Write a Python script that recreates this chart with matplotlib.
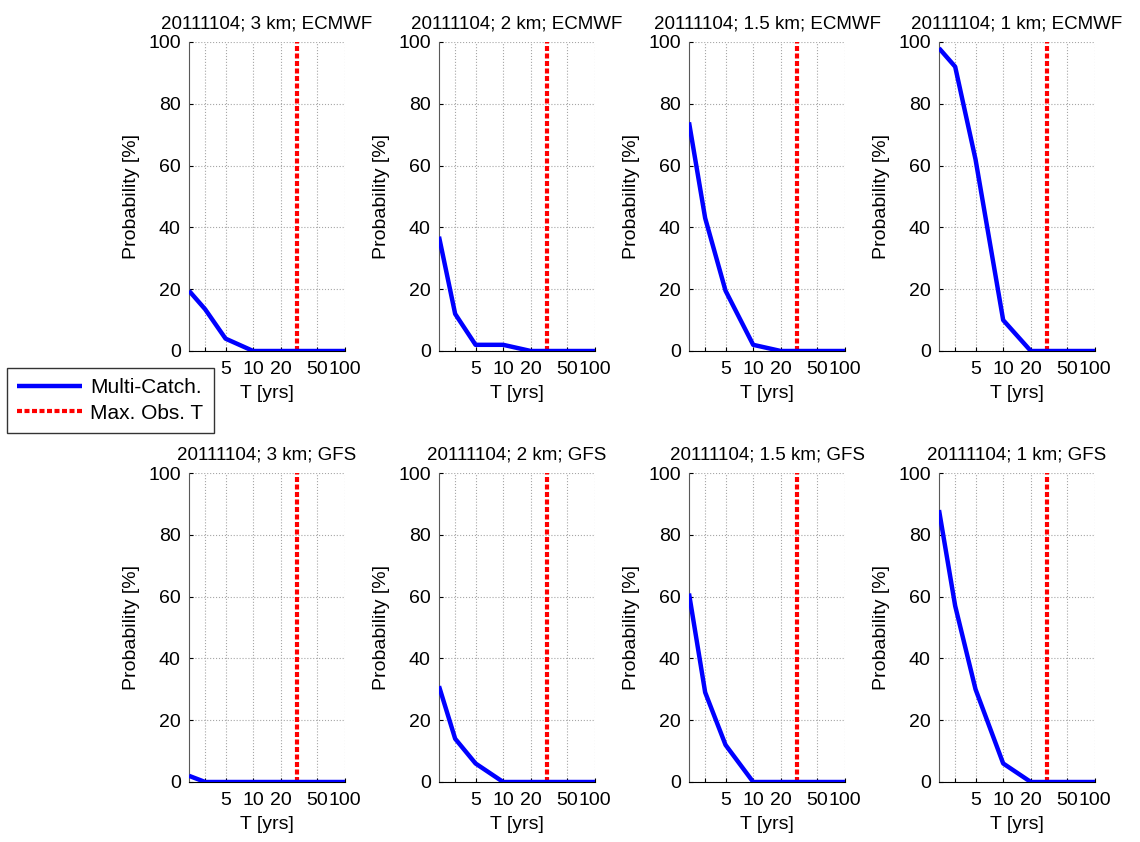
import matplotlib
matplotlib.use("Agg")
import matplotlib.pyplot as plt
from matplotlib.ticker import FixedLocator, NullLocator

plt.rcParams['font.family'] = ['Liberation Sans', 'DejaVu Sans']
fs = 13.5
plt.rcParams['font.size'] = fs

# return periods [yrs] and probabilities [%]
T = [2, 3, 5, 10, 20, 50, 100]
max_obs_T = 30

titles = ["20111104; 3 km; ECMWF", "20111104; 2 km; ECMWF",
          "20111104; 1.5 km; ECMWF", "20111104; 1 km; ECMWF",
          "20111104; 3 km; GFS", "20111104; 2 km; GFS",
          "20111104; 1.5 km; GFS", "20111104; 1 km; GFS"]

ecmwf_3km = [19.5, 13.5, 4, 0, 0, 0, 0]
ecmwf_2km = [37, 12, 2, 2, 0, 0, 0]
ecmwf_15km = [74, 43, 19.5, 2, 0, 0, 0]
ecmwf_1km = [98, 92, 62, 10, 0, 0, 0]
gfs_3km = [2, 0, 0, 0, 0, 0, 0]
gfs_2km = [31, 14, 6, 0, 0, 0, 0]
gfs_15km = [61, 29, 12, 0, 0, 0, 0]
gfs_1km = [88, 57, 30, 6, 0, 0, 0]

series = [ecmwf_3km, ecmwf_2km, ecmwf_15km, ecmwf_1km,
          gfs_3km, gfs_2km, gfs_15km, gfs_1km]

W, H = 1140, 842
fig = plt.figure(figsize=(W / 100, H / 100), dpi=100)

lefts = [189, 439, 689, 939]
tops = [42, 473]
aw, ah = 156, 309

for i, (ttl, p) in enumerate(zip(titles, series)):
    r, c = divmod(i, 4)
    ax = fig.add_axes([lefts[c] / W, 1 - (tops[r] + ah) / H, aw / W, ah / H])
    ax.set_xscale('log')
    ax.plot([max_obs_T, max_obs_T], [0, 100], color='red', lw=3,
            ls=(0, (1.2, 0.6)), label='Max. Obs. T', zorder=2)
    ax.plot(T, p, color='blue', lw=3.2, label='Multi-Catch.', zorder=3,
            solid_capstyle='butt')
    ax.set_xlim(2, 100)
    ax.set_ylim(0, 100)
    ax.xaxis.set_major_locator(FixedLocator([3, 5, 10, 20, 50, 100]))
    ax.xaxis.set_minor_locator(NullLocator())
    ax.set_xticklabels(['', '5', '10', '20', '50', '100'])
    ax.set_yticks([0, 20, 40, 60, 80, 100])
    ax.grid(True, ls=':', color='0.65', lw=0.8)
    ax.set_axisbelow(True)
    ax.spines['top'].set_visible(False)
    ax.spines['right'].set_visible(False)
    ax.spines['left'].set_color('0.35')
    ax.tick_params(direction='in', length=3, labelsize=14)
    ax.tick_params(axis='x', pad=7)
    ax.tick_params(axis='y', pad=6)
    ax.set_title(ttl, fontsize=fs, pad=10)
    ax.set_xlabel('T [yrs]', labelpad=5, fontsize=14)
    ax.set_ylabel('Probability [%]', labelpad=6, fontsize=14)
    if i == 0:
        handles, labels = ax.get_legend_handles_labels()

fig.legend(handles[::-1], labels[::-1], loc='upper left',
           bbox_to_anchor=(7 / W, 1 - 368 / H), borderaxespad=0,
           fancybox=False, framealpha=1, edgecolor='0.2',
           handlelength=3.1, handletextpad=0.4, labelspacing=0.3,
           borderpad=0.5, fontsize=15)

fig.savefig('out.png', dpi=100)
